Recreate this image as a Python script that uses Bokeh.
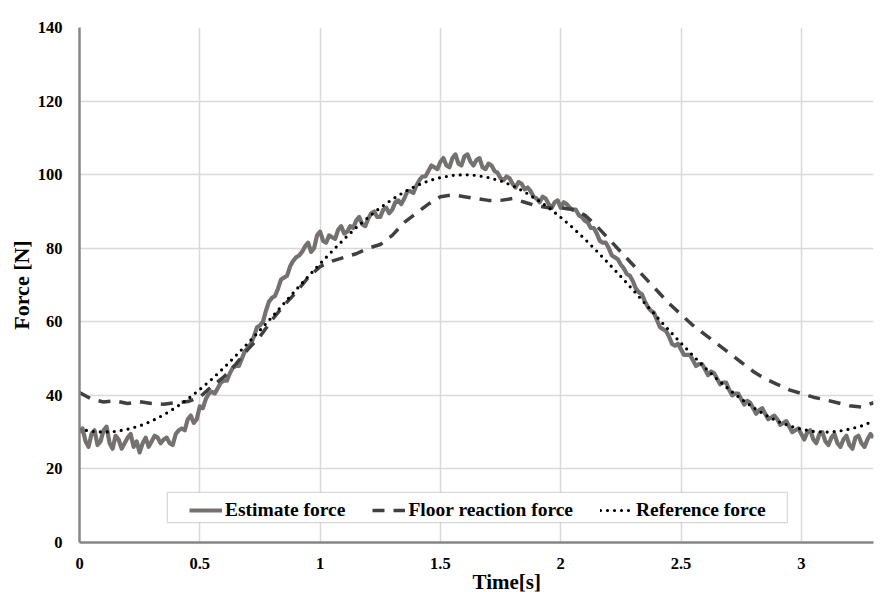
import numpy as np
from bokeh.plotting import figure
from bokeh.models import Legend, LegendItem, BoxAnnotation, Title, FixedTicker
from bokeh.embed import file_html
from bokeh.resources import INLINE

# ---------------- data ----------------
# Estimate force, read every 0.025 s from 0 to 3.3 s
estimate_force = [
    30.0, 27.5, 29.5, 26.5, 30.5, 27.0, 29.0, 25.5, 28.5, 26.0,
    24.5, 28.5, 27.5, 28.5, 28.0, 27.0, 29.5, 31.0, 33.5, 32.5,
    37.0, 39.0, 41.0, 42.0, 44.0, 46.0, 48.0, 50.0, 53.0, 56.0,
    59.0, 63.0, 66.5, 69.0, 72.0, 75.0, 77.5, 79.0, 81.5, 80.0,
    84.5, 81.5, 83.0, 85.0, 84.0, 86.0, 87.5, 86.5, 88.0, 90.0,
    88.5, 91.0, 90.5, 93.0, 93.5, 95.5, 97.0, 99.5, 101.0, 102.0,
    103.5, 102.5, 104.5, 103.0, 105.0, 103.5, 104.0, 102.0, 103.0, 101.0,
    99.0, 99.5, 97.5, 98.0, 96.0, 95.5, 93.5, 94.0, 92.0, 92.5,
    91.0, 92.0, 90.5, 89.0, 87.5, 85.5, 84.0, 81.5, 80.0, 77.5,
    75.5, 73.0, 71.0, 68.0, 65.5, 63.0, 60.5, 58.0, 56.0, 53.5,
    52.5, 51.0, 49.5, 48.5, 47.0, 46.5, 44.5, 43.5, 41.5, 40.5,
    39.0, 38.5, 36.5, 36.0, 35.0, 34.0, 33.5, 32.5, 31.5, 30.5,
    29.5, 30.0, 28.0, 29.5, 27.5, 28.5, 27.0, 28.0, 26.5, 28.5,
    27.0, 28.0, 28.5,
]
# Estimate force, read at the in-between instants (0.0125 + k*0.025 s)
estimate_force_mid = [
    31.0, 26.0, 30.5, 27.5, 31.5, 25.5, 28.0, 27.0, 29.5, 27.5,
    27.0, 26.0, 29.0, 27.0, 28.5, 26.5, 30.5, 30.5, 34.5, 33.5,
    36.5, 40.5, 40.5, 43.5, 44.0, 47.5, 48.0, 52.0, 54.0, 58.5,
    60.0, 65.5, 67.0, 71.5, 72.5, 76.5, 78.0, 80.5, 79.0, 83.5,
    82.0, 83.5, 82.5, 86.0, 84.5, 85.5, 88.5, 86.0, 89.5, 88.5,
    90.5, 89.5, 92.5, 92.0, 95.5, 95.0, 98.5, 99.5, 102.5, 101.5,
    104.5, 102.0, 105.5, 102.5, 105.5, 102.5, 104.5, 101.5, 102.5, 100.5,
    98.5, 99.0, 96.5, 97.5, 96.5, 94.0, 92.5, 93.5, 91.0, 93.0,
    92.5, 91.0, 90.5, 88.5, 87.0, 85.5, 82.0, 81.5, 78.0, 77.0,
    74.5, 72.5, 69.0, 67.5, 64.0, 62.5, 58.5, 57.5, 54.0, 54.0,
    51.0, 51.0, 48.0, 48.5, 45.5, 46.0, 43.0, 43.5, 40.0, 40.5,
    37.5, 38.0, 35.0, 36.5, 33.5, 34.5, 32.0, 33.0, 30.0, 31.0,
    28.0, 30.5, 27.0, 30.0, 26.5, 29.5, 26.0, 29.0, 25.5, 29.0,
    26.0, 29.5,
]
est_step = 0.0125

# Floor reaction force, read every 0.05 s
floor_force = [
    40.8, 39.0, 38.2, 38.5, 37.8, 38.3, 37.8, 37.6, 38.0, 38.3,
    39.5, 42.5, 45.0, 48.5, 52.5, 56.0, 60.5, 64.5, 68.0, 72.0,
    75.0, 76.5, 77.5, 78.5, 80.0, 81.0, 83.5, 87.0, 89.5, 92.0,
    94.0, 94.5, 94.0, 93.5, 93.0, 93.0, 93.5, 92.5, 91.5, 91.0,
    91.0, 90.5, 89.0, 86.0, 82.5, 79.0, 75.5, 72.0, 68.5, 65.0,
    62.0, 59.0, 56.5, 54.0, 51.5, 49.0, 46.5, 44.5, 43.0, 41.5,
    40.5, 39.5, 38.8, 38.0, 37.2, 36.8, 38.0,
]
# Reference force, read every 0.05 s
reference_force = [
    30.8, 30.2, 30.0, 30.2, 30.8, 31.7, 33.0, 34.7, 36.7, 39.0,
    41.6, 44.4, 47.5, 50.8, 54.2, 57.7, 61.3, 65.0, 68.7, 72.3,
    75.8, 79.2, 82.5, 85.6, 88.4, 91.0, 93.3, 95.3, 97.0, 98.3,
    99.2, 99.8, 100.0, 99.8, 99.2, 98.3, 97.0, 95.3, 93.3, 91.0,
    88.4, 85.6, 82.5, 79.2, 75.8, 72.3, 68.7, 65.0, 61.3, 57.7,
    54.2, 50.8, 47.5, 44.4, 41.6, 39.0, 36.7, 34.7, 33.0, 31.7,
    30.8, 30.2, 30.0, 30.2, 30.8, 31.7, 33.0,
]
slow_step = 0.05

x_ticks = [0, 0.5, 1, 1.5, 2, 2.5, 3]
x_tick_labels = ["0", "0.5", "1", "1.5", "2", "2.5", "3"]
y_ticks = [0, 20, 40, 60, 80, 100, 120, 140]

series_names = ["Estimate force", "Floor reaction force", "Reference force"]
x_title = "Time[s]"
y_title = "Force [N]"

# interleave the two readings of the estimate
est_values = []
for i, v in enumerate(estimate_force):
    est_values.append(v)
    if i < len(estimate_force_mid):
        est_values.append(estimate_force_mid[i])
t_est = np.round(np.arange(len(est_values)) * est_step, 5)
t_floor = np.round(np.arange(len(floor_force)) * slow_step, 4)
t_ref = np.round(np.arange(len(reference_force)) * slow_step, 4)

# ---------------- figure ----------------
FONT = "Liberation Serif"

p = figure(width=888, height=592, x_range=(0, 3.3), y_range=(0, 140),
           output_backend="svg", toolbar_location=None,
           min_border_left=79, min_border_right=15,
           min_border_top=27, min_border_bottom=50)
p.outline_line_color = None
p.background_fill_color = "white"

for g, ticks in ((p.xgrid, x_ticks), (p.ygrid, y_ticks)):
    g.ticker = FixedTicker(ticks=ticks)
    g.grid_line_color = "#d9d9d9"
    g.grid_line_width = 1.5

p.xaxis.ticker = FixedTicker(ticks=x_ticks)
p.xaxis.major_label_overrides = {t: s for t, s in zip(x_ticks, x_tick_labels)}
p.yaxis.ticker = FixedTicker(ticks=y_ticks)

for ax in (p.xaxis, p.yaxis):
    ax.axis_line_color = "#868686"
    ax.axis_line_width = 2.5
    ax.major_tick_line_color = None
    ax.minor_tick_line_color = None
    ax.major_label_text_font = FONT
    ax.major_label_text_font_style = "bold"
    ax.major_label_text_font_size = "16.5px"
    ax.major_label_text_color = "black"

p.xaxis.major_label_standoff = 9
p.yaxis.major_label_standoff = 11
p.yaxis.axis_label = y_title
p.yaxis.axis_label_text_font = FONT
p.yaxis.axis_label_text_font_style = "bold"
p.yaxis.axis_label_text_font_size = "22px"
p.yaxis.axis_label_text_color = "black"
p.yaxis.axis_label_standoff = 1

r_est = p.line(t_est, est_values, line_color="#767171", line_width=4.2,
               line_join="round")
r_floor = p.line(t_floor, floor_force, line_color="#404040", line_width=3.5,
                 line_dash="12 9")
r_ref = p.line(t_ref, reference_force, line_color="black", line_width=3.2,
               line_dash="0 7", line_cap="round")

p.add_layout(Title(text=x_title, align="left", offset=393, standoff=-8,
                   text_font=FONT, text_font_style="bold",
                   text_font_size="21px", text_color="black"), "below")

box = BoxAnnotation(left=0.365, right=2.942, bottom=5.43, top=13.6,
                    fill_color="white", fill_alpha=1.0,
                    line_color="#7f7f7f", line_width=1.2)
p.add_layout(box)

legend = Legend(items=[LegendItem(label=series_names[0], renderers=[r_est]),
                       LegendItem(label=series_names[1], renderers=[r_floor]),
                       LegendItem(label=series_names[2], renderers=[r_ref])],
                orientation="horizontal", location=(110, 21),
                border_line_color=None, background_fill_alpha=0,
                padding=4, spacing=27, margin=0,
                glyph_width=33, glyph_height=20, label_standoff=3,
                label_text_font=FONT, label_text_font_style="bold",
                label_text_font_size="19.5px", label_text_color="black")
p.add_layout(legend)

open("out.html", "w").write(file_html(p, INLINE))
